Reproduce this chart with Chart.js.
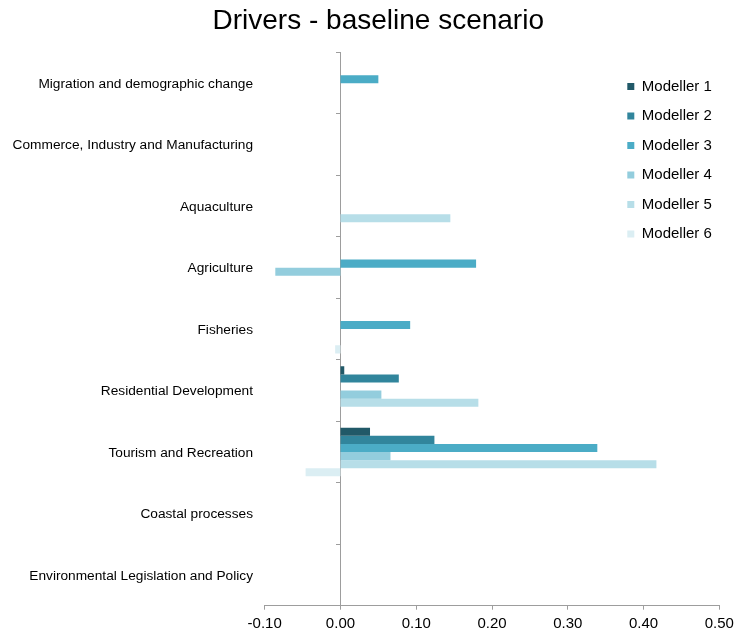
<!DOCTYPE html>
<html>
<head>
<meta charset="utf-8">
<title>Drivers - baseline scenario</title>
<script src="https://cdn.jsdelivr.net/npm/chart.js@4/dist/chart.umd.min.js"></script>
<style>
  html, body { margin: 0; padding: 0; background: #ffffff; }
  #wrap { width: 736px; height: 633px; }
</style>
</head>
<body>
<div id="wrap"><canvas id="chart" width="736" height="633"></canvas></div>
<script>
// Driver categories, listed top to bottom
const drivers = [
  'Migration and demographic change',
  'Commerce, Industry and Manufacturing',
  'Aquaculture',
  'Agriculture',
  'Fisheries',
  'Residential Development',
  'Tourism and Recreation',
  'Coastal processes',
  'Environmental Legislation and Policy'
];

// Scores given by each modeller (null = no score)
const modeller1 = [null, null, null, null, null, 0.005, 0.039, null, null];
const modeller2 = [null, null, null, null, null, 0.077, 0.124, null, null];
const modeller3 = [0.050, null, null, 0.179, 0.092, null, 0.339, null, null];
const modeller4 = [null, null, null, -0.086, null, 0.054, 0.066, null, null];
const modeller5 = [null, null, 0.145, null, null, 0.182, 0.417, null, null];
const modeller6 = [null, null, null, null, -0.007, null, -0.046, null, null];

const seriesNames = ['Modeller 1', 'Modeller 2', 'Modeller 3', 'Modeller 4', 'Modeller 5', 'Modeller 6'];
const seriesColors = ['#215968', '#31859C', '#4BACC6', '#93CDDD', '#B7DEE8', '#DBEEF3'];
const seriesValues = [modeller1, modeller2, modeller3, modeller4, modeller5, modeller6];

// Axis range and tick step for the score axis
const scoreMin = -0.10;
const scoreMax = 0.50;
const scoreStep = 0.10;

const FONT = "'Liberation Sans', Arial, sans-serif";
const AXIS_GREY = '#9d9d9d';

// Moves the legend into the top-right of the plot area and nudges the title
const boxPlacement = {
  id: 'boxPlacement',
  afterLayout(chart) {
    const area = chart.chartArea;
    const lg = chart.legend;
    if (lg) {
      const w = lg.width, h = lg.height;
      lg.left = area.right - 106.5;
      lg.top = area.top + 12;
      lg.right = lg.left + w;
      lg.bottom = lg.top + h;
    }
    const tb = chart.titleBlock;
    if (tb) {
      tb.left += 18.6;
      tb.right += 18.6;
    }
  }
};

new Chart(document.getElementById('chart'), {
  type: 'bar',
  data: {
    labels: drivers,
    datasets: seriesNames.map((name, i) => ({
      label: name,
      data: seriesValues[i],
      backgroundColor: seriesColors[i],
      borderWidth: 0,
      barPercentage: 1.0,
      categoryPercentage: 0.79
    }))
  },
  options: {
    indexAxis: 'y',
    responsive: false,
    animation: false,
    devicePixelRatio: 1,
    layout: { padding: { left: 0, right: 16.7, top: 0, bottom: 0 } },
    plugins: {
      title: {
        display: true,
        text: 'Drivers - baseline scenario',
        color: '#000000',
        font: { family: FONT, size: 28, weight: 'normal', lineHeight: 1.2 },
        padding: { top: 4.5, bottom: 14.4 }
      },
      legend: {
        position: 'chartArea',
        align: 'start',
        labels: {
          color: '#000000',
          font: { family: FONT, size: 15 },
          boxWidth: 7,
          boxHeight: 7,
          padding: 14.5
        }
      },
      tooltip: { enabled: false }
    },
    scales: {
      x: {
        type: 'linear',
        position: 'bottom',
        min: scoreMin,
        max: scoreMax,
        ticks: {
          stepSize: scoreStep,
          color: '#000000',
          font: { family: FONT, size: 15, lineHeight: 1.2 },
          padding: 5.5,
          callback: (v) => (Math.abs(v) < 1e-9 ? 0 : Number(v)).toFixed(2)
        },
        grid: { display: true, drawOnChartArea: false, drawTicks: true, tickLength: 4, color: AXIS_GREY },
        border: { display: true, color: AXIS_GREY, width: 1 },
        afterFit(scale) { scale.height = 27.3; scale.paddingLeft = 0; scale.paddingRight = 0; }
      },
      // Category axis drawn through zero, carrying only the tick marks
      y: {
        type: 'category',
        position: { x: 0 },
        offset: true,
        ticks: { display: false },
        grid: { display: true, offset: true, drawOnChartArea: false, drawTicks: true, tickLength: 4, color: AXIS_GREY },
        border: { display: true, color: AXIS_GREY, width: 1 }
      },
      // Category names along the left edge
      yLabels: {
        type: 'category',
        position: 'left',
        offset: true,
        ticks: {
          color: '#000000',
          font: { family: FONT, size: 13.7 },
          padding: 11.7,
          labelOffset: 1
        },
        grid: { display: false, drawTicks: false },
        border: { display: false },
        afterFit(scale) { scale.width = 264.7; scale.paddingTop = 0; scale.paddingBottom = 0; }
      }
    }
  },
  plugins: [boxPlacement]
});
</script>
</body>
</html>
